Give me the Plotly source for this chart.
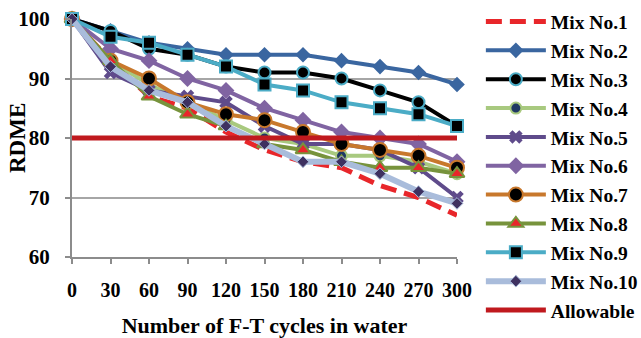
import plotly.graph_objects as go

cycles = [0, 30, 60, 90, 120, 150, 180, 210, 240, 270, 300]
mix1 = [100, 93, 87, 85, 81, 78, 76, 75, 72, 70, 67]
mix2 = [100, 98, 96, 95, 94, 94, 94, 93, 92, 91, 89]
mix3 = [100, 98, 95, 94, 92, 91, 91, 90, 88, 86, 82]
mix4 = [100, 93, 89, 86, 83, 80, 79, 77, 77, 76, 74]
mix5 = [100, 91, 88, 87, 86, 82, 79, 79, 78, 75, 70]
mix6 = [100, 95, 93, 90, 88, 85, 83, 81, 80, 79, 76]
mix7 = [100, 93, 90, 86, 84, 83, 81, 79, 78, 77, 75]
mix8 = [100, 93, 87, 84, 82, 79, 78, 76, 75, 75, 74]
mix9 = [100, 97, 96, 94, 92, 89, 88, 86, 85, 84, 82]
mix10 = [100, 92, 88, 86, 82, 79, 76, 76, 74, 71, 69]
allowable = [80] * len(cycles)
names = ["Mix No.1", "Mix No.2", "Mix No.3", "Mix No.4", "Mix No.5", "Mix No.6",
         "Mix No.7", "Mix No.8", "Mix No.9", "Mix No.10", "Allowable"]
y_ticks = [60, 70, 80, 90, 100]

series = [mix1, mix2, mix3, mix4, mix5, mix6, mix7, mix8, mix9, mix10, allowable]
styles = [
    dict(line=dict(color="#E8262A", width=5, dash="16px,8px"), mode="lines", marker=None),
    dict(line=dict(color="#3A66A0", width=4), mode="lines+markers",
         marker=dict(symbol="diamond", size=12, color="#3A66A0")),
    dict(line=dict(color="#000000", width=4), mode="lines+markers",
         marker=dict(symbol="circle", size=12, color="#000000", line=dict(color="#4BACC6", width=2))),
    dict(line=dict(color="#A8C97F", width=4), mode="lines+markers",
         marker=dict(symbol="circle", size=11, color="#1F3864", line=dict(color="#A8C97F", width=2))),
    dict(line=dict(color="#5F4B8B", width=4), mode="lines+markers",
         marker=dict(symbol="x", size=12, color="#5F4B8B")),
    dict(line=dict(color="#8064A2", width=4), mode="lines+markers",
         marker=dict(symbol="diamond", size=13, color="#8064A2")),
    dict(line=dict(color="#C8782C", width=4), mode="lines+markers",
         marker=dict(symbol="circle", size=14, color="#000000", line=dict(color="#C8782C", width=2))),
    dict(line=dict(color="#77933C", width=4), mode="lines+markers",
         marker=dict(symbol="triangle-up", size=13, color="#E8262A", line=dict(color="#77933C", width=2))),
    dict(line=dict(color="#4BACC6", width=4), mode="lines+markers",
         marker=dict(symbol="square", size=12, color="#000000", line=dict(color="#4BACC6", width=2))),
    dict(line=dict(color="#A9BCDB", width=6), mode="lines+markers",
         marker=dict(symbol="diamond", size=9, color="#3E3160", line=dict(color="#A9BCDB", width=1))),
    dict(line=dict(color="#C0191E", width=5), mode="lines", marker=None),
]

fig = go.Figure()
for i, (name, ys, st) in enumerate(zip(names, series, styles)):
    kw = dict(x=cycles, y=ys, name=f"<b>{name}</b>", mode=st["mode"], line=st["line"],
              cliponaxis=False, legendgroup=f"g{i}")
    if st["marker"] is not None:
        kw["marker"] = st["marker"]
    fig.add_trace(go.Scatter(**kw))

font_family = "Liberation Serif"
fig.update_layout(
    width=641, height=338,
    margin=dict(l=72, r=184, t=19, b=81, autoexpand=False),
    paper_bgcolor="white", plot_bgcolor="white",
    font=dict(family=font_family, size=20, color="black"),
    showlegend=True,
    legend=dict(x=1.062, y=1.07, xanchor="left", yanchor="top",
                font=dict(family=font_family, size=19.5, color="black"),
                tracegroupgap=0.5, itemwidth=60, maxheight=1.0,
                bgcolor="rgba(0,0,0,0)"),
    xaxis=dict(range=[0, 300], tickvals=cycles, ticktext=[f"<b>{c}</b>" for c in cycles],
               tickfont=dict(family=font_family, size=20), automargin=False,
               showgrid=False, zeroline=False, showline=True, linecolor="#8C8C8C", linewidth=2,
               ticks="outside", tickcolor="#8C8C8C", ticklen=5, tickwidth=2,
               ticklabelstandoff=9,
               title=dict(text="<b>Number of F-T cycles in water</b>",
                          font=dict(family=font_family, size=22), standoff=18)),
    yaxis=dict(range=[60, 100], tickvals=y_ticks, ticktext=[f"<b>{v}</b>" for v in y_ticks],
               tickfont=dict(family=font_family, size=21), automargin=False,
               showgrid=True, gridcolor="#A6A6A6", gridwidth=2, zeroline=False,
               showline=True, linecolor="#8C8C8C", linewidth=2,
               ticks="outside", tickcolor="#8C8C8C", ticklen=5, tickwidth=2,
               ticklabelstandoff=11),
    annotations=[dict(text="<b>RDME</b>", textangle=-90, xref="paper", yref="paper",
                      x=(17 - 72) / 385, y=0.5, xanchor="center", yanchor="middle",
                      showarrow=False, font=dict(family=font_family, size=23, color="black"))],
)
fig.write_html("out.html")
